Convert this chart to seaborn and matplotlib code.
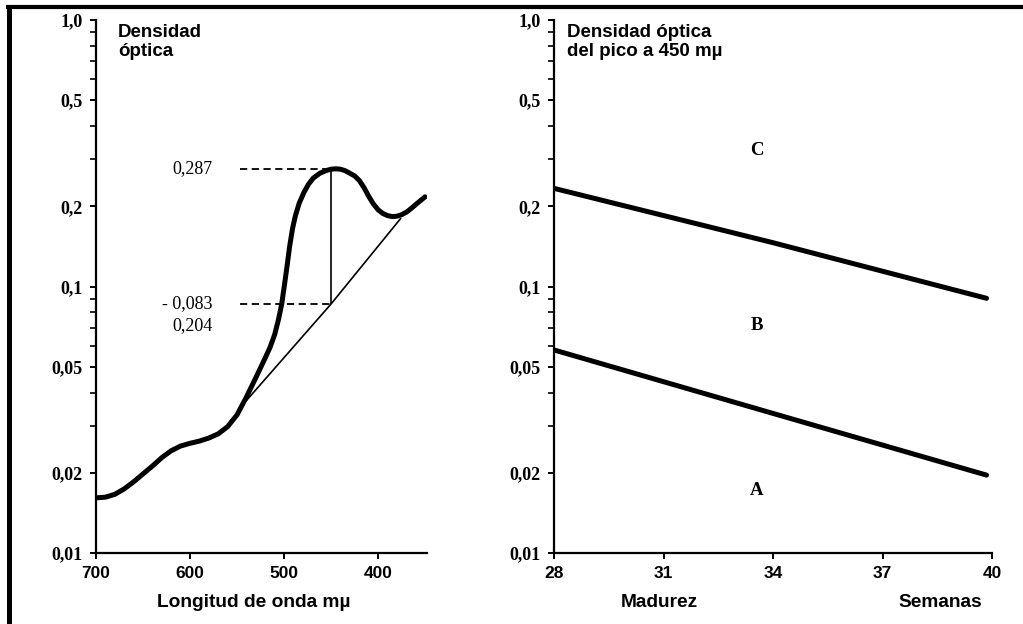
import matplotlib
matplotlib.use("Agg")
import matplotlib.pyplot as plt
from matplotlib.lines import Line2D
from matplotlib.ticker import NullFormatter
import seaborn as sns

# Left panel: absorption spectrum (wavelength in m-mu, optical density)
wavelength = [700, 690, 680, 670, 660, 650, 640, 630, 620, 610, 600, 590, 580,
              570, 560, 550, 540, 530, 520, 515, 510, 506, 502.5, 500, 497,
              494, 491, 488, 484, 479, 474, 469, 462, 455, 450, 445, 440, 435,
              430, 425, 420, 415, 410, 405, 400, 395, 390, 385, 380, 375, 370,
              365, 360, 355, 350]
density = [0.0161, 0.0162, 0.0166, 0.0174, 0.0185, 0.0198, 0.0212, 0.0228,
           0.0242, 0.0252, 0.0258, 0.0263, 0.0270, 0.0280, 0.0298, 0.0330,
           0.0385, 0.0455, 0.0540, 0.0590, 0.0660, 0.0750, 0.0860, 0.0990,
           0.1180, 0.1420, 0.1650, 0.1840, 0.2050, 0.2250, 0.2420, 0.2550,
           0.2660, 0.2725, 0.2755, 0.2765, 0.2755, 0.2720, 0.2660, 0.2600,
           0.2500, 0.2350, 0.2180, 0.2040, 0.1940, 0.1880, 0.1845, 0.1830,
           0.1835, 0.1860, 0.1900, 0.1960, 0.2030, 0.2100, 0.2170]

# baseline drawn under the 450 peak
base_x = [547, 450, 376]
base_y = [0.035, 0.086, 0.18]
peak_x = 450
peak_level = 0.276
base_level = 0.086
peak_labels = ["0,287", "- 0,083", "0,204"]

# Right panel: peak density vs maturity (weeks)
weeks = [28, 34, 39.85]
upper_line = [0.2335, 0.146, 0.0903]
lower_line = [0.0578, 0.0334, 0.0196]
zone_names = ["C", "B", "A"]
zone_y = [0.325, 0.0717, 0.0171]
zone_x = 33.56

y_ticks = [0.01, 0.02, 0.05, 0.1, 0.2, 0.5, 1.0]
y_labels = ["0,01", "0,02", "0,05", "0,1", "0,2", "0,5", "1,0"]
y_minor = [0.03, 0.04, 0.06, 0.07, 0.08, 0.09, 0.3, 0.4, 0.6, 0.7, 0.8, 0.9]
x_ticks_left = [700, 600, 500, 400]
x_ticks_right = [28, 31, 34, 37, 40]

sns.set_style("ticks")
plt.rcParams["font.family"] = ["Liberation Sans", "DejaVu Sans"]
plt.rcParams["text.color"] = "black"
plt.rcParams["xtick.color"] = "black"
plt.rcParams["ytick.color"] = "black"
plt.rcParams["axes.labelcolor"] = "black"

SERIF = ["Liberation Serif", "DejaVu Serif"]
SANS = ["Liberation Sans", "DejaVu Sans"]

fig = plt.figure(figsize=(10.23, 6.24), dpi=100)
ax1 = fig.add_axes([96 / 1023, 71 / 624, 331 / 1023, 533 / 624])
ax2 = fig.add_axes([554 / 1023, 71 / 624, 438 / 1023, 533 / 624])


def style_axis(ax, xticks):
    ax.set_yscale("log")
    ax.set_ylim(0.01, 1.0)
    ax.set_yticks(y_ticks)
    ax.set_yticklabels(y_labels, family=SERIF, fontweight="bold", fontsize=13)
    ax.set_yticks(y_minor, minor=True)
    ax.yaxis.set_minor_formatter(NullFormatter())
    ax.set_xticks(xticks)
    ax.set_xticklabels([str(t) for t in xticks], family=SANS,
                       fontweight="bold", fontsize=12.5)
    for side in ["top", "right"]:
        ax.spines[side].set_visible(False)
    for side in ["left", "bottom"]:
        ax.spines[side].set_linewidth(1.6)
        ax.spines[side].set_color("black")
    ax.tick_params(axis="both", which="major", direction="out", length=4.5,
                   width=1.4, color="black", pad=5)
    ax.tick_params(axis="y", which="minor", direction="out", length=4,
                   width=1.2, color="black")
    ax.set_xlabel("")
    ax.set_ylabel("")
    ax.set_facecolor("white")


# ---- left panel
sns.lineplot(x=wavelength, y=density, ax=ax1, color="black", linewidth=3.6,
             sort=False)
sns.lineplot(x=base_x, y=base_y, ax=ax1, color="black", linewidth=1.2,
             sort=False)
ax1.vlines(peak_x, base_level, peak_level, color="black", linewidth=1.2)
ax1.hlines([peak_level, base_level], 547, peak_x, color="black",
           linewidth=1.3, linestyles=(0, (4, 2.5)))
style_axis(ax1, x_ticks_left)
ax1.set_xlim(700, 348)

ax1.text(576, peak_level, peak_labels[0], ha="right", va="center",
         family=SERIF, fontsize=13)
ax1.text(576, base_level, peak_labels[1], ha="right", va="center",
         family=SERIF, fontsize=13)
ax1.text(576, 0.0712, peak_labels[2], ha="right", va="center",
         family=SERIF, fontsize=13)

ax1.text(0.066, 0.992, "Densidad\nóptica", transform=ax1.transAxes,
         ha="left", va="top", fontweight="bold", fontsize=13.5,
         linespacing=1.1)
ax1.text(0.477, -0.092, "Longitud de onda mµ", transform=ax1.transAxes,
         ha="center", va="center", fontweight="bold", fontsize=13.8)

# ---- right panel
sns.lineplot(x=weeks, y=upper_line, ax=ax2, color="black", linewidth=3.6)
sns.lineplot(x=weeks, y=lower_line, ax=ax2, color="black", linewidth=3.6)
style_axis(ax2, x_ticks_right)
ax2.set_xlim(28, 40)

for name, yv in zip(zone_names, zone_y):
    ax2.text(zone_x, yv, name, ha="center", va="center", family=SERIF,
             fontweight="bold", fontsize=13.5)

ax2.text(0.03, 0.992, "Densidad óptica\ndel pico a 450 mµ",
         transform=ax2.transAxes, ha="left", va="top", fontweight="bold",
         fontsize=13.5, linespacing=1.1)
ax2.text(0.24, -0.092, "Madurez", transform=ax2.transAxes, ha="center",
         va="center", fontweight="bold", fontsize=13.8)
ax2.text(0.881, -0.092, "Semanas", transform=ax2.transAxes, ha="center",
         va="center", fontweight="bold", fontsize=13.8)

# frame lines on the top and left edge of the scan
fig.add_artist(Line2D([6 / 1023, 1], [1 - 7 / 624, 1 - 7 / 624],
                      transform=fig.transFigure, color="black", linewidth=3,
                      solid_capstyle="butt"))
fig.add_artist(Line2D([8.5 / 1023, 8.5 / 1023], [0, 1 - 5 / 624],
                      transform=fig.transFigure, color="black", linewidth=3.6,
                      solid_capstyle="butt"))

fig.savefig("out.png", dpi=100, facecolor="white")
